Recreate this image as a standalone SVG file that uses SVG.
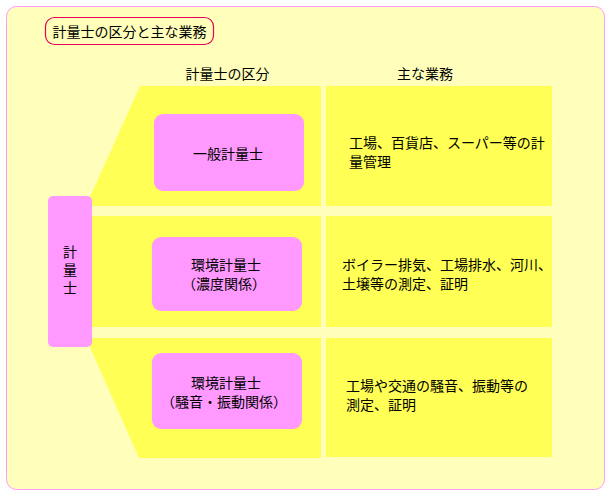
<svg xmlns="http://www.w3.org/2000/svg" width="613" height="500" viewBox="0 0 613 500">
<style>
text{font-family:"Noto Sans CJK JP","Noto Sans",sans-serif;font-size:14px;fill:#000}
.c{text-anchor:middle}
.band{fill:#ffff55}
.pk{fill:#ff99ff}
</style>
<rect x="0" y="0" width="613" height="500" fill="#ffffff"/>
<rect id="panel" x="6.5" y="6.5" width="598" height="483" rx="10" fill="#ffffbb" stroke="#ff99ff" stroke-width="1"/>
<g id="title">
<rect x="45.5" y="17.5" width="168" height="27" rx="9" fill="#ffffbb" stroke="#e8005a" stroke-width="1.2"/>
<text x="129.5" y="37" class="c">計量士の区分と主な業務</text>
</g>
<g id="headers">
<text x="227.5" y="78.5" class="c">計量士の区分</text>
<text x="425" y="78.5" class="c">主な業務</text>
</g>
<g id="bands">
<polygon class="band" points="140,86 321,86 321,206 86,206"/>
<rect class="band" x="326" y="86" width="226" height="120"/>
<rect class="band" x="90" y="216" width="231" height="111"/>
<rect class="band" x="326" y="216" width="226" height="111"/>
<polygon class="band" points="86,338 321,338 321,458 139,458"/>
<rect class="band" x="326" y="338" width="226" height="119"/>
</g>
<g id="keiryoshi">
<rect class="pk" x="48" y="196" width="44" height="151" rx="5"/>
<text x="70" y="245" style="writing-mode:vertical-rl;letter-spacing:4px">計量士</text>
</g>
<g id="ippan">
<rect class="pk" x="154" y="114" width="150" height="77" rx="9"/>
<text x="228" y="159" class="c">一般計量士</text>
</g>
<g id="kankyo1">
<rect class="pk" x="152" y="237" width="150" height="74" rx="9"/>
<text class="c"><tspan x="226" y="270">環境計量士</tspan><tspan x="224" y="289">（濃度関係）</tspan></text>
</g>
<g id="kankyo2">
<rect class="pk" x="152" y="353" width="150" height="76" rx="9"/>
<text class="c"><tspan x="226" y="387.5">環境計量士</tspan><tspan x="224" y="406.5">（騒音・振動関係）</tspan></text>
</g>
<g id="duty1">
<text><tspan x="349" y="147.5">工場、百貨店、スーパー等の計</tspan><tspan x="349" y="166.5">量管理</tspan></text>
</g>
<g id="duty2">
<text><tspan x="342" y="269.5">ボイラー排気、工場排水、河川、</tspan><tspan x="342" y="288.5">土壌等の測定、証明</tspan></text>
</g>
<g id="duty3">
<text><tspan x="346" y="390.5">工場や交通の騒音、振動等の</tspan><tspan x="346" y="409.5">測定、証明</tspan></text>
</g>
<g id="connectors"></g>
</svg>
